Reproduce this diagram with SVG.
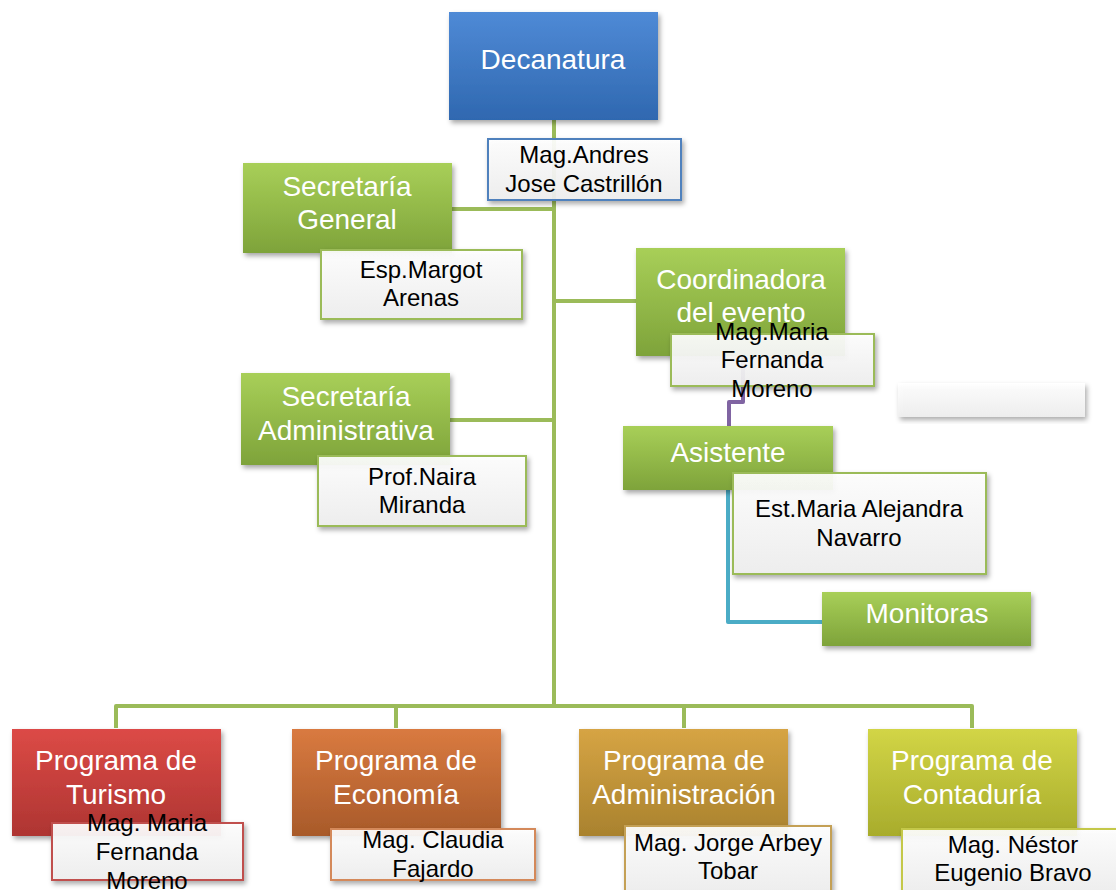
<svg xmlns="http://www.w3.org/2000/svg" width="1116" height="890" viewBox="0 0 1116 890">
<defs>
<linearGradient id="gBlue" x1="0" y1="0" x2="0" y2="1"><stop offset="0" stop-color="#4f8ad6"/><stop offset="1" stop-color="#2f68b0"/></linearGradient>
<linearGradient id="gGreen" x1="0" y1="0" x2="0" y2="1"><stop offset="0" stop-color="#a8cf58"/><stop offset="1" stop-color="#7ea33a"/></linearGradient>
<linearGradient id="gRed" x1="0" y1="0" x2="0" y2="1"><stop offset="0" stop-color="#dc4a46"/><stop offset="1" stop-color="#ae3532"/></linearGradient>
<linearGradient id="gOrange" x1="0" y1="0" x2="0" y2="1"><stop offset="0" stop-color="#d97a40"/><stop offset="1" stop-color="#a85a2a"/></linearGradient>
<linearGradient id="gGold" x1="0" y1="0" x2="0" y2="1"><stop offset="0" stop-color="#d6a444"/><stop offset="1" stop-color="#a9822e"/></linearGradient>
<linearGradient id="gLime" x1="0" y1="0" x2="0" y2="1"><stop offset="0" stop-color="#d2d546"/><stop offset="1" stop-color="#a8ac2c"/></linearGradient>
<linearGradient id="gLabel" x1="0" y1="0" x2="0" y2="1"><stop offset="0" stop-color="#ffffff"/><stop offset="1" stop-color="#efefef"/></linearGradient>
<filter id="sh" x="-10%" y="-10%" width="125%" height="130%"><feDropShadow dx="2" dy="3" stdDeviation="2.5" flood-color="#000" flood-opacity="0.35"/></filter>
</defs>
<style>
.t{font-family:"Liberation Sans",Arial,sans-serif;font-size:28px;fill:#fff;text-anchor:middle}
.l{font-family:"Liberation Sans",Arial,sans-serif;font-size:24px;fill:#000;text-anchor:middle}
.box{filter:url(#sh)}
.lab{fill:url(#gLabel);fill-opacity:0.92;stroke-width:2;filter:url(#sh)}
.c{fill:none;stroke-width:4;stroke-linejoin:round}
</style>
<g id="connectors">
<path class="c" stroke="#9bbb59" d="M554 120V706M452 209H554M554 301H636M450 420H554M116 728V706H972V728M396 706V728M684 706V728"/>
<path class="c" stroke="#8064a2" d="M743 356V402H729V426"/>
<path class="c" stroke="#4bacc6" d="M728 490V622H822"/>
</g>
<g id="decanatura">
<rect class="box" x="449" y="12" width="209" height="108" fill="url(#gBlue)"/>
<text class="t" x="553" y="69">Decanatura</text>
<rect class="lab" x="488" y="139" width="193" height="61" stroke="#4f81bd"/>
<text class="l" x="584" y="163">Mag.Andres</text><text class="l" x="584" y="192">Jose Castrillón</text>
</g>
<g id="secretaria-general">
<rect class="box" x="243" y="163" width="209" height="90" fill="url(#gGreen)"/>
<text class="t" x="347" y="196">Secretaría</text><text class="t" x="347" y="229">General</text>
<rect class="lab" x="321" y="250" width="201" height="69" stroke="#9bbb59"/>
<text class="l" x="421" y="278">Esp.Margot</text><text class="l" x="421" y="306">Arenas</text>
</g>
<g id="coordinadora">
<rect class="box" x="636" y="248" width="209" height="108" fill="url(#gGreen)"/>
<text class="t" x="741" y="289">Coordinadora</text><text class="t" x="741" y="322">del evento</text>
<rect class="lab" x="671" y="334" width="203" height="52" stroke="#9bbb59"/>
<text class="l" x="772" y="340">Mag.Maria</text><text class="l" x="772" y="368">Fernanda</text><text class="l" x="772" y="397">Moreno</text>
</g>
<g id="empty-box">
<rect class="lab" x="898" y="383" width="187" height="34" stroke="none"/>
</g>
<g id="secretaria-administrativa">
<rect class="box" x="241" y="373" width="209" height="92" fill="url(#gGreen)"/>
<text class="t" x="346" y="406">Secretaría</text><text class="t" x="346" y="440">Administrativa</text>
<rect class="lab" x="318" y="456" width="208" height="70" stroke="#9bbb59"/>
<text class="l" x="422" y="485">Prof.Naira</text><text class="l" x="422" y="513">Miranda</text>
</g>
<g id="asistente">
<rect class="box" x="623" y="426" width="210" height="64" fill="url(#gGreen)"/>
<text class="t" x="728" y="462">Asistente</text>
<rect class="lab" x="733" y="473" width="253" height="101" stroke="#9bbb59"/>
<text class="l" x="859" y="517">Est.Maria Alejandra</text><text class="l" x="859" y="546">Navarro</text>
</g>
<g id="monitoras">
<rect class="box" x="822" y="592" width="209" height="54" fill="url(#gGreen)"/>
<text class="t" x="927" y="623">Monitoras</text>
</g>
<g id="turismo">
<rect class="box" x="12" y="729" width="209" height="107" fill="url(#gRed)"/>
<text class="t" x="116" y="770">Programa de</text><text class="t" x="116" y="804">Turismo</text>
<rect class="lab" x="52" y="823" width="191" height="57" stroke="#c0504d"/>
<text class="l" x="147" y="831">Mag. Maria</text><text class="l" x="147" y="860">Fernanda</text><text class="l" x="147" y="889">Moreno</text>
</g>
<g id="economia">
<rect class="box" x="292" y="729" width="209" height="107" fill="url(#gOrange)"/>
<text class="t" x="396" y="770">Programa de</text><text class="t" x="396" y="804">Economía</text>
<rect class="lab" x="331" y="829" width="204" height="51" stroke="#d4895a"/>
<text class="l" x="433" y="848">Mag. Claudia</text><text class="l" x="433" y="877">Fajardo</text>
</g>
<g id="administracion">
<rect class="box" x="579" y="729" width="209" height="107" fill="url(#gGold)"/>
<text class="t" x="684" y="770">Programa de</text><text class="t" x="684" y="804">Administración</text>
<rect class="lab" x="625" y="826" width="206" height="66" stroke="#c4a055"/>
<text class="l" x="728" y="851">Mag. Jorge Arbey</text><text class="l" x="728" y="879">Tobar</text>
</g>
<g id="contaduria">
<rect class="box" x="868" y="729" width="209" height="107" fill="url(#gLime)"/>
<text class="t" x="972" y="770">Programa de</text><text class="t" x="972" y="804">Contaduría</text>
<rect class="lab" x="902" y="829" width="218" height="64" stroke="#c4c84a"/>
<text class="l" x="1013" y="853">Mag. Néstor</text><text class="l" x="1013" y="881">Eugenio Bravo</text>
</g>
</svg>
